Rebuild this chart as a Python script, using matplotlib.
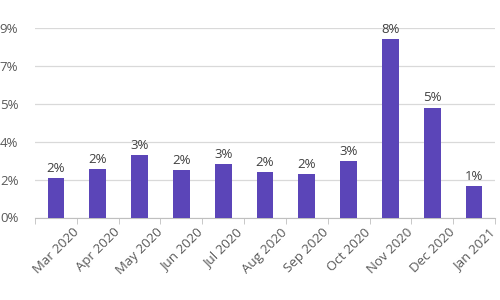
import matplotlib
matplotlib.use("Agg")
import matplotlib.pyplot as plt
import numpy as np

categories = ["Mar 2020", "Apr 2020", "May 2020", "Jun 2020", "Jul 2020", "Aug 2020",
              "Sep 2020", "Oct 2020", "Nov 2020", "Dec 2020", "Jan 2021"]
values = [1.87, 2.29, 2.98, 2.24, 2.52, 2.16, 2.08, 2.67, 8.45, 5.22, 1.49]
yticks = [0, 1.8, 3.6, 5.4, 7.2, 9.0]

plt.rcParams['font.family'] = ['Open Sans', 'DejaVu Sans']

fig = plt.figure(figsize=(5, 3), dpi=100)
ax = fig.add_axes([0.07, 0.275, 0.92, 0.632])

x = np.arange(len(categories))
bars = ax.bar(x, values, width=0.4, color='#5b45b8', zorder=3)

for xi, v in zip(x, values):
    ax.text(xi, v + 0.15, f"{v:.0f}%", ha='center', va='bottom',
            fontsize=9.5, color='#404040', zorder=4)

ax.set_xlim(-0.5, len(categories) - 0.5)
ax.set_ylim(0, 9.0)
ax.set_yticks(yticks)
ax.set_yticklabels([f"{t:.0f}%" for t in yticks])
ax.yaxis.grid(True, color='#d9d9d9', linewidth=0.9, zorder=0)
ax.tick_params(axis='y', length=0, pad=12, labelsize=9.5, labelcolor='#595959')

ax.set_xticks(x)
ax.set_xticklabels(categories, rotation=45, fontsize=9.5, color='#595959')
ax.set_xticks(np.arange(len(categories) + 1) - 0.5, minor=True)
ax.tick_params(axis='x', which='major', length=0, pad=6)
ax.tick_params(axis='x', which='minor', length=4, color='#bfbfbf')

for s in ['top', 'right', 'left']:
    ax.spines[s].set_visible(False)
ax.spines['bottom'].set_color('#bfbfbf')

fig.savefig("out.png", dpi=100)
